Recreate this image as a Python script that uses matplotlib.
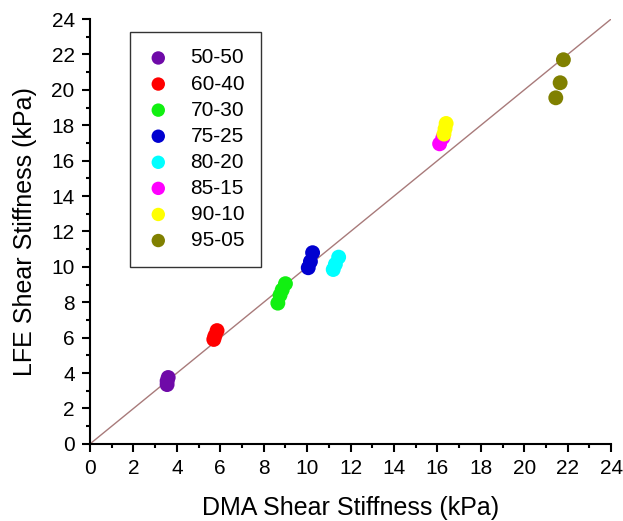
import matplotlib
matplotlib.use("Agg")
from matplotlib import pyplot as plt
from matplotlib.ticker import MultipleLocator

plt.rcParams['font.family'] = ['Liberation Sans', 'DejaVu Sans']

# DMA (x) vs LFE (y) shear stiffness, kPa
labels = ['50-50', '60-40', '70-30', '75-25', '80-20', '85-15', '90-10', '95-05']
colors = ['#6f0aa8', '#ff0000', '#11f011', '#0000d0', '#00ffff', '#ff00ff', '#ffff00', '#808000']
dma = [
    [3.55, 3.55, 3.6],
    [5.7, 5.75, 5.85],
    [8.65, 8.75, 8.85, 9.0],
    [10.05, 10.15, 10.25],
    [11.2, 11.3, 11.45],
    [16.1, 16.25],
    [16.3, 16.35, 16.4],
    [21.45, 21.65, 21.8],
]
lfe = [
    [3.35, 3.55, 3.75],
    [5.9, 6.1, 6.4],
    [7.95, 8.4, 8.7, 9.05],
    [9.95, 10.3, 10.8],
    [9.85, 10.15, 10.55],
    [16.95, 17.3],
    [17.5, 17.8, 18.1],
    [19.55, 20.4, 21.7],
]

fig = plt.figure(figsize=(6.23, 5.21), dpi=100)
ax = fig.add_axes([0.1445, 0.148, 0.8365, 0.8155])

ax.plot([0, 24], [0, 24], color='#a87a7a', lw=1.0, zorder=1)
for x, y, c, lab in zip(dma, lfe, colors, labels):
    ax.scatter(x, y, s=115, color=c, edgecolors='none', label=lab, zorder=2)

ax.set_xlim(0, 24)
ax.set_ylim(0, 24)
ax.xaxis.set_major_locator(MultipleLocator(2))
ax.yaxis.set_major_locator(MultipleLocator(2))
ax.xaxis.set_minor_locator(MultipleLocator(1))
ax.yaxis.set_minor_locator(MultipleLocator(1))
ax.spines['top'].set_visible(False)
ax.spines['right'].set_visible(False)
for s in ['left', 'bottom']:
    ax.spines[s].set_linewidth(1.5)
ax.tick_params(which='major', direction='out', length=6, width=1.5, labelsize=15, pad=5)
ax.tick_params(which='minor', direction='out', length=3, width=1.5)

ax.set_xlabel('DMA Shear Stiffness (kPa)', fontsize=18, labelpad=13)
ax.set_ylabel('LFE Shear Stiffness (kPa)', fontsize=18, labelpad=10)

leg = ax.legend(loc='upper left', bbox_to_anchor=(0.077, 0.97), fontsize=15,
                frameon=True, fancybox=False, edgecolor='black',
                handlelength=1.1, handletextpad=1.0, labelspacing=0.34,
                borderpad=0.8, borderaxespad=0, scatterpoints=1, markerscale=0.9)
leg.get_frame().set_linewidth(1.0)

fig.savefig('out.png', dpi=100)
